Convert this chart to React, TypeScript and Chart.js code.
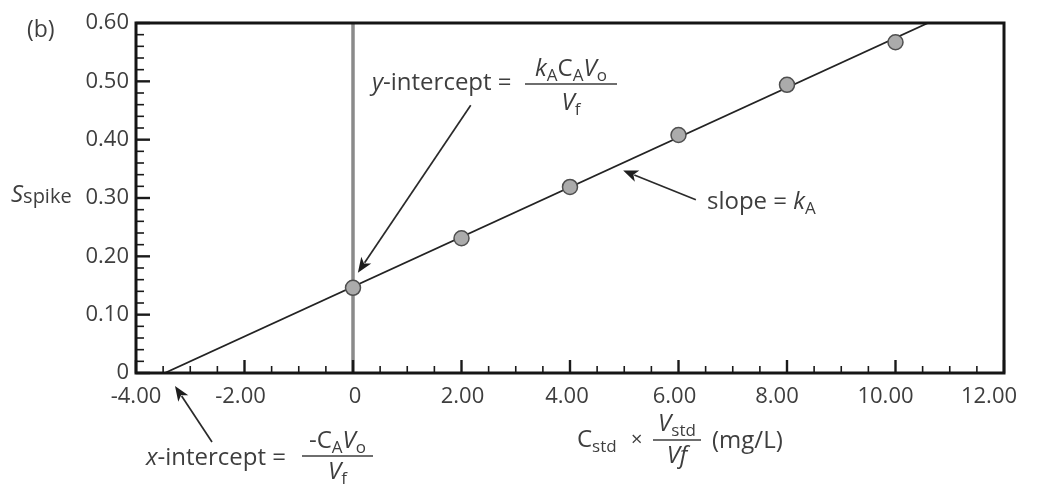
import React, { useEffect, useRef } from "react";
import { Chart, registerables } from "chart.js";

Chart.register(...registerables);

// Standard-addition measurements
const stdConc = [0, 2, 4, 6, 8, 10];
const sSpike = [0.146, 0.231, 0.319, 0.408, 0.494, 0.567];

// Least-squares line, drawn from the x-intercept to the top of the plot
const fitX = [-3.47, 10.6];
const fitY = [0, 0.6];

// Vertical reference line at x = 0
const zeroLineX = [0, 0];
const zeroLineY = [0, 0.6];

const xTicks = [-4, -2, 0, 2, 4, 6, 8, 10, 12];
const yTicks = [0, 0.1, 0.2, 0.3, 0.4, 0.5, 0.6];

const FONT = '"Open Sans", "Noto Sans", sans-serif';
const TEXT = "#3e3e3e";

// Hand-set horizontal nudges for the x tick labels (pixels)
const xLabelNudge: Record<string, number> = {
  "-4": 0, "-2": -4, "0": 2, "2": 1, "4": -3, "6": -4, "8": -10, "10": -10, "12": -15,
};

const fmt = (v: number) => (Math.abs(v) < 1e-9 ? "0" : Number(v).toFixed(2));

type Run = { t: string; i?: boolean; s?: boolean };
type Style = { base?: number; sub?: number; dy?: number };

function runFont(r: Run, st: Style) {
  const base = st.base ?? 24;
  const sub = st.sub ?? 17;
  return `${r.i ? "italic " : ""}${r.s ? sub : base}px ${FONT}`;
}

function runsWidth(ctx: CanvasRenderingContext2D, runs: Run[], st: Style = {}) {
  let w = 0;
  for (const r of runs) {
    ctx.font = runFont(r, st);
    w += ctx.measureText(r.t).width;
  }
  return w;
}

function drawRuns(ctx: CanvasRenderingContext2D, x: number, y: number, runs: Run[], st: Style = {}) {
  const dy = st.dy ?? 5;
  ctx.textAlign = "left";
  ctx.textBaseline = "alphabetic";
  for (const r of runs) {
    ctx.font = runFont(r, st);
    ctx.fillText(r.t, x, y + (r.s ? dy : 0));
    x += ctx.measureText(r.t).width;
  }
  return x;
}

function drawFraction(
  ctx: CanvasRenderingContext2D,
  x: number,
  barY: number,
  barW: number,
  num: Run[],
  numBase: number,
  den: Run[],
  denBase: number,
  st: Style = {}
) {
  const nw = runsWidth(ctx, num, st);
  const dw = runsWidth(ctx, den, st);
  drawRuns(ctx, x + (barW - nw) / 2, numBase, num, st);
  drawRuns(ctx, x + (barW - dw) / 2, denBase, den, st);
  ctx.save();
  ctx.strokeStyle = TEXT;
  ctx.lineWidth = 1.6;
  ctx.beginPath();
  ctx.moveTo(x, barY);
  ctx.lineTo(x + barW, barY);
  ctx.stroke();
  ctx.restore();
}

function arrow(ctx: CanvasRenderingContext2D, x1: number, y1: number, x2: number, y2: number) {
  const a = Math.atan2(y2 - y1, x2 - x1);
  const len = 15;
  const hw = 6;
  const bx = x2 - len * Math.cos(a);
  const by = y2 - len * Math.sin(a);
  ctx.save();
  ctx.strokeStyle = "#2a2a2a";
  ctx.fillStyle = "#1e1e1e";
  ctx.lineWidth = 1.7;
  ctx.beginPath();
  ctx.moveTo(x1, y1);
  ctx.lineTo(bx + 3 * Math.cos(a), by + 3 * Math.sin(a));
  ctx.stroke();
  ctx.beginPath();
  ctx.moveTo(x2, y2);
  ctx.lineTo(bx + hw * Math.sin(a), by - hw * Math.cos(a));
  ctx.lineTo(x2 - (len - 4) * Math.cos(a), y2 - (len - 4) * Math.sin(a));
  ctx.lineTo(bx - hw * Math.sin(a), by + hw * Math.cos(a));
  ctx.closePath();
  ctx.fill();
  ctx.restore();
}

const framePlugin = {
  id: "frameAndNotes",
  afterDraw(chart: any) {
    const { ctx, chartArea: ca, scales } = chart;
    const xs = scales.x;
    const ys = scales.y;
    ctx.save();

    // Inward minor / major ticks on the left and bottom axes
    ctx.strokeStyle = "#1a1a1a";
    for (let i = 0; i <= 30; i++) {
      const v = i * 0.02;
      const py = ys.getPixelForValue(v);
      const major = i % 5 === 0;
      ctx.lineWidth = major ? 2.4 : 1.6;
      ctx.beginPath();
      ctx.moveTo(ca.left, py);
      ctx.lineTo(ca.left + (major ? 14 : 8), py);
      ctx.stroke();
    }
    for (let i = 0; i <= 32; i++) {
      const v = -4 + i * 0.5;
      const px = xs.getPixelForValue(v);
      const major = i % 4 === 0;
      ctx.lineWidth = major ? 2.4 : 1.6;
      ctx.beginPath();
      ctx.moveTo(px, ca.bottom);
      ctx.lineTo(px, ca.bottom - (major ? 13 : 7));
      ctx.stroke();
    }

    // Plot frame
    ctx.lineWidth = 3;
    ctx.strokeStyle = "#151515";
    ctx.strokeRect(ca.left, ca.top, ca.right - ca.left, ca.bottom - ca.top);

    ctx.fillStyle = TEXT;

    // X tick labels, placed from the scale's ticks
    ctx.font = `22px ${FONT}`;
    ctx.textAlign = "center";
    ctx.textBaseline = "alphabetic";
    for (const tk of xs.ticks) {
      const nudge = xLabelNudge[String(tk.value)] ?? 0;
      ctx.fillText(fmt(tk.value), xs.getPixelForValue(tk.value) + nudge, 403);
    }

    // Panel tag
    ctx.font = `23px ${FONT}`;
    ctx.textAlign = "left";
    ctx.fillText("(b)", 27, 37);

    // Y-axis title
    drawRuns(ctx, 11, 202, [{ t: "S", i: true }, { t: "spike", s: true }], { base: 24, sub: 20, dy: 1 });

    // X-axis title
    drawRuns(ctx, 577, 447, [{ t: "C" }, { t: "std", s: true }]);
    drawRuns(ctx, 631, 446, [{ t: "×" }], { base: 20 });
    drawFraction(
      ctx,
      653,
      440,
      48,
      [{ t: "V", i: true }, { t: "std", s: true }],
      431,
      [{ t: "Vf", i: true }],
      463
    );
    drawRuns(ctx, 712, 448, [{ t: "(mg/L)" }]);

    // y-intercept note
    drawRuns(ctx, 372, 90, [{ t: "y", i: true }, { t: "-intercept =" }]);
    drawFraction(
      ctx,
      525,
      84,
      92,
      [{ t: "k", i: true }, { t: "A", s: true }, { t: "C" }, { t: "A", s: true }, { t: "V", i: true }, { t: "o", s: true }],
      76,
      [{ t: "V", i: true }, { t: "f", s: true }],
      110
    );
    arrow(ctx, xs.getPixelForValue(2.17), ys.getPixelForValue(0.459), xs.getPixelForValue(0.09), ys.getPixelForValue(0.172));

    // slope note
    drawRuns(ctx, 707, 209, [{ t: "slope = " }, { t: "k", i: true }, { t: "A", s: true }]);
    arrow(ctx, xs.getPixelForValue(6.32), ys.getPixelForValue(0.297), xs.getPixelForValue(4.98), ys.getPixelForValue(0.347));

    // x-intercept note
    drawRuns(ctx, 146, 465, [{ t: "x", i: true }, { t: "-intercept =" }]);
    drawFraction(
      ctx,
      302,
      456,
      71,
      [{ t: "-C" }, { t: "A", s: true }, { t: "V", i: true }, { t: "o", s: true }],
      448,
      [{ t: "V", i: true }, { t: "f", s: true }],
      479
    );
    arrow(ctx, 212, 442, 175, 386);

    ctx.restore();
  },
};

export default function App() {
  const ref = useRef<HTMLCanvasElement | null>(null);

  useEffect(() => {
    if (!ref.current) return;
    const chart = new Chart(ref.current, {
      type: "scatter",
      data: {
        datasets: [
          {
            label: "S_spike",
            data: stdConc.map((x, i) => ({ x, y: sSpike[i] })),
            pointRadius: 7.5,
            pointBackgroundColor: "#ababab",
            pointBorderColor: "#4f4f4f",
            pointBorderWidth: 1.5,
            showLine: false,
          },
          {
            label: "fit",
            data: fitX.map((x, i) => ({ x, y: fitY[i] })),
            showLine: true,
            borderColor: "#232323",
            borderWidth: 1.8,
            pointRadius: 0,
          },
          {
            label: "x = 0",
            data: zeroLineX.map((x, i) => ({ x, y: zeroLineY[i] })),
            showLine: true,
            borderColor: "#8a8a8a",
            borderWidth: 3.5,
            pointRadius: 0,
          },
        ],
      },
      options: {
        responsive: false,
        animation: false,
        events: [],
        layout: { padding: { left: 0, top: 23, right: 37, bottom: 0 } },
        plugins: { legend: { display: false }, tooltip: { enabled: false } },
        scales: {
          x: {
            type: "linear",
            min: -4,
            max: 12,
            afterBuildTicks: (s: any) => {
              s.ticks = xTicks.map((value) => ({ value }));
            },
            afterFit: (s: any) => {
              s.height = 112;
            },
            grid: { display: false, drawTicks: false },
            border: { display: false },
            ticks: { display: false },
          },
          y: {
            type: "linear",
            min: 0,
            max: 0.6,
            afterBuildTicks: (s: any) => {
              s.ticks = yTicks.map((value) => ({ value }));
            },
            afterFit: (s: any) => {
              s.width = 136;
            },
            grid: { display: false, drawTicks: false },
            border: { display: false },
            ticks: {
              padding: 7,
              color: TEXT,
              font: { family: FONT, size: 22 },
              autoSkip: false,
              callback: (v: any) => fmt(v),
            },
          },
        },
      },
      plugins: [framePlugin],
    });
    return () => chart.destroy();
  }, []);

  return (
    <div style={{ position: "absolute", left: 0, top: 0, width: 1041, height: 485, background: "#fff" }}>
      <canvas ref={ref} width={1041} height={485} style={{ display: "block" }} />
    </div>
  );
}
